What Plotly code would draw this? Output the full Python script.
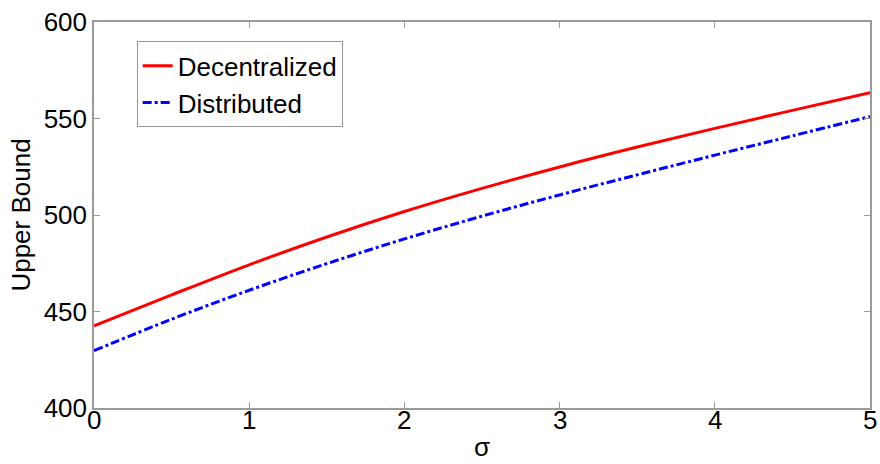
import plotly.graph_objects as go

sigma = [0, 0.5, 1, 1.5, 2, 2.5, 3, 3.5, 4, 4.5, 5]
decentralized = [442.6, 458.6, 474.2, 488.6, 501.8, 513.8, 524.9, 535.2, 544.9, 554.2, 563.4]
distributed = [429.7, 446.0, 461.0, 474.8, 487.6, 499.4, 510.4, 520.8, 531.0, 541.0, 551.0]
x_ticks = [0, 1, 2, 3, 4, 5]
x_tick_labels = ["0", "1", "2", "3", "4", "5"]
y_ticks = [400, 450, 500, 550, 600]

fig = go.Figure()
fig.add_trace(go.Scatter(x=sigma, y=decentralized, mode="lines", name="Decentralized",
                         line=dict(color="#ff0000", width=3, shape="spline")))
fig.add_trace(go.Scatter(x=sigma, y=distributed, mode="lines", name="Distributed",
                         line=dict(color="#0000ff", width=3, dash="dashdot", shape="spline")))

font = dict(family="Liberation Sans, Arial, sans-serif", size=26, color="black")
axis_common = dict(showline=True, linecolor="#9a9a9a", linewidth=1.5, mirror="ticks",
                   ticks="inside", ticklen=6, tickcolor="#9a9a9a", tickwidth=1,
                   showgrid=False, zeroline=False, tickfont=font, automargin=False)

# x tick labels placed close to the axis (MATLAB style)
annotations = [dict(x=v, y=0, xref="x", yref="paper", text=t, showarrow=False,
                    xanchor="center", yanchor="top", yshift=5, font=font)
               for v, t in zip(x_ticks, x_tick_labels)]
annotations.append(dict(x=0.5, y=0, xref="paper", yref="paper", text="σ", showarrow=False,
                        xanchor="center", yanchor="bottom", yshift=-56, font=font))

fig.update_layout(
    width=880, height=464,
    margin=dict(l=94, r=10, t=22, b=56),
    plot_bgcolor="white", paper_bgcolor="white",
    font=font,
    xaxis=dict(range=[0, 5], tickvals=x_ticks, showticklabels=False, **axis_common),
    yaxis=dict(range=[400, 600], tickvals=y_ticks,
               title=dict(text="Upper Bound", font=font, standoff=6), **axis_common),
    legend=dict(x=0.055, y=0.95, xanchor="left", yanchor="top",
                bordercolor="#9a9a9a", borderwidth=1, bgcolor="white",
                font=dict(family="Liberation Sans, Arial, sans-serif", size=26, color="black"),
                itemwidth=30, tracegroupgap=0),
    annotations=annotations,
    showlegend=True,
)
fig.write_html("out.html")
